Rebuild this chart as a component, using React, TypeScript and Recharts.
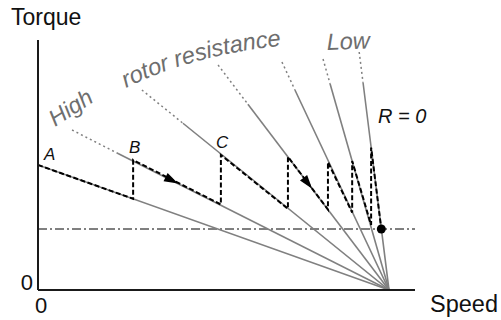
import React from 'react';
import { LineChart, Line, XAxis, YAxis, ReferenceLine, ReferenceDot, Customized } from 'recharts';

// speed in % of synchronous speed, torque in arbitrary units
const syncPoint = { s: 100, t: 0 };
const pointA = { s: 0, t: 50 };

// rotor-resistance lines, high -> low (R = 0 last): dotted top part, then solid to sync point
const dottedStarts = [
  { s: 9.7, t: 64 },
  { s: 29.6, t: 80 },
  { s: 51.3, t: 90 },
  { s: 69.5, t: 91.2 },
  { s: 81.2, t: 92.4 },
  { s: 91.5, t: 95.2 },
];
const dottedEnds = [
  { s: 22.8, t: 54.6 },
  { s: 41.3, t: 66.7 },
  { s: 59.8, t: 74.3 },
  { s: 73.2, t: 80 },
  { s: 83.2, t: 82.5 },
  { s: 92.6, t: 82.9 },
];

// starting path A -> B -> C ... -> operating point
const staircase = [
  { s: 0, t: 50 },
  { s: 27.1, t: 36.5 },
  { s: 27.1, t: 52 },
  { s: 52.1, t: 34.2 },
  { s: 52.1, t: 54 },
  { s: 71.2, t: 32.5 },
  { s: 71.2, t: 53.3 },
  { s: 82.6, t: 32.2 },
  { s: 82.6, t: 51.2 },
  { s: 89.5, t: 31 },
  { s: 89.5, t: 51.6 },
  { s: 94.9, t: 26 },
  { s: 94.9, t: 57 },
  { s: 97.8, t: 24.4 },
];

const arrowSegments = [
  [{ s: 36, t: 45.4 }, { s: 39.9, t: 42.6 }],
  [{ s: 76.5, t: 43.4 }, { s: 78.1, t: 40.5 }],
];

const loadTorque = 24.4;
const operatingPoint = { s: 97.8, t: 24.4 };

const FONT = '"Liberation Sans", Arial, Helvetica, sans-serif';
const GRAY = '#808080';
const TEXT_GRAY = '#6e6e6e';

function makeArrowDot(id: string) {
  let prev = { x: 0, y: 0 };
  return (p: any) => {
    if (p.index === 0) {
      prev = { x: p.cx, y: p.cy };
      return <g key={`${id}-0`} />;
    }
    const a = Math.atan2(p.cy - prev.y, p.cx - prev.x);
    const len = 14;
    const w = 4.5;
    const bx = p.cx - len * Math.cos(a);
    const by = p.cy - len * Math.sin(a);
    const px = -Math.sin(a) * w;
    const py = Math.cos(a) * w;
    const pts = `${p.cx},${p.cy} ${bx + px},${by + py} ${bx - px},${by - py}`;
    return <polygon key={`${id}-1`} points={pts} fill="#000" />;
  };
}

function XTick(props: any) {
  const { x, y } = props;
  return (
    <text x={x + 3} y={y + 15} textAnchor="middle" fontFamily={FONT} fontSize={22} fill="#111">
      0
    </text>
  );
}

function YTick(props: any) {
  const { x, y } = props;
  return (
    <text x={x + 3} y={y} textAnchor="end" fontFamily={FONT} fontSize={22} fill="#111">
      0
    </text>
  );
}

function Annotations() {
  return (
    <g fontFamily={FONT}>
      <defs>
        <path id="rotorArc" d="M 126 88 Q 196.5 53 290 45 L 340 43" fill="none" />
      </defs>
      <text x={11} y={25} fontSize={23} fill="#111">Torque</text>
      <text x={430} y={312} fontSize={23.5} fill="#111">Speed</text>
      <text x={44} y={160} fontSize={17} fontStyle="italic" fill="#111">A</text>
      <text x={129} y={153} fontSize={17} fontStyle="italic" fill="#111">B</text>
      <text x={216} y={148} fontSize={17} fontStyle="italic" fill="#111">C</text>
      <text x={378} y={123} fontSize={20} fontStyle="italic" fill="#111">R = 0</text>
      <text x={55} y={127} fontSize={23} fontStyle="italic" fill={TEXT_GRAY} transform="rotate(-33 55 127)">High</text>
      <text fontSize={23.5} fontStyle="italic" fill={TEXT_GRAY}>
        <textPath href="#rotorArc">rotor resistance</textPath>
      </text>
      <text x={327} y={50} fontSize={23.5} fontStyle="italic" fill={TEXT_GRAY} transform="rotate(-2 327 50)">Low</text>
    </g>
  );
}

export default function App() {
  return (
    <div style={{ position: 'absolute', left: 0, top: 0 }}>
      <LineChart width={501} height={320} margin={{ top: 40, right: 86, bottom: 0, left: 0 }}>
        <XAxis
          type="number"
          dataKey="s"
          domain={[0, 107.4]}
          ticks={[0]}
          allowDataOverflow
          axisLine={{ stroke: '#1a1a1a', strokeWidth: 2 }}
          tickLine={false}
          tick={<XTick />}
          height={30}
        />
        <YAxis
          type="number"
          dataKey="t"
          domain={[0, 100]}
          ticks={[0]}
          allowDataOverflow
          axisLine={{ stroke: '#1a1a1a', strokeWidth: 2 }}
          tickLine={false}
          tick={<YTick />}
          width={38}
        />
        <ReferenceLine y={loadTorque} stroke="#000" strokeWidth={1} strokeDasharray="9 3 2 3" />
        <Line
          data={[pointA, syncPoint]}
          dataKey="t"
          stroke={GRAY}
          strokeWidth={1.6}
          dot={false}
          activeDot={false}
          isAnimationActive={false}
        />
        {dottedStarts.map((top, i) => (
          <Line
            key={`dot-${i}`}
            data={[top, dottedEnds[i]]}
            dataKey="t"
            stroke={GRAY}
            strokeWidth={1.5}
            strokeDasharray="2 3"
            dot={false}
            activeDot={false}
            isAnimationActive={false}
          />
        ))}
        {dottedEnds.map((p, i) => (
          <Line
            key={`solid-${i}`}
            data={[p, syncPoint]}
            dataKey="t"
            stroke={GRAY}
            strokeWidth={1.6}
            dot={false}
            activeDot={false}
            isAnimationActive={false}
          />
        ))}
        <Line
          data={staircase}
          dataKey="t"
          type="linear"
          stroke="#000"
          strokeWidth={2}
          strokeDasharray="5 2.5"
          dot={false}
          activeDot={false}
          isAnimationActive={false}
        />
        {arrowSegments.map((seg, i) => (
          <Line
            key={`arrow-${i}`}
            data={seg}
            dataKey="t"
            stroke="none"
            dot={makeArrowDot(`arrow-${i}`)}
            activeDot={false}
            isAnimationActive={false}
          />
        ))}
        <ReferenceDot x={operatingPoint.s} y={operatingPoint.t} r={4.5} fill="#000" stroke="none" />
        <Customized component={<Annotations />} />
      </LineChart>
    </div>
  );
}
